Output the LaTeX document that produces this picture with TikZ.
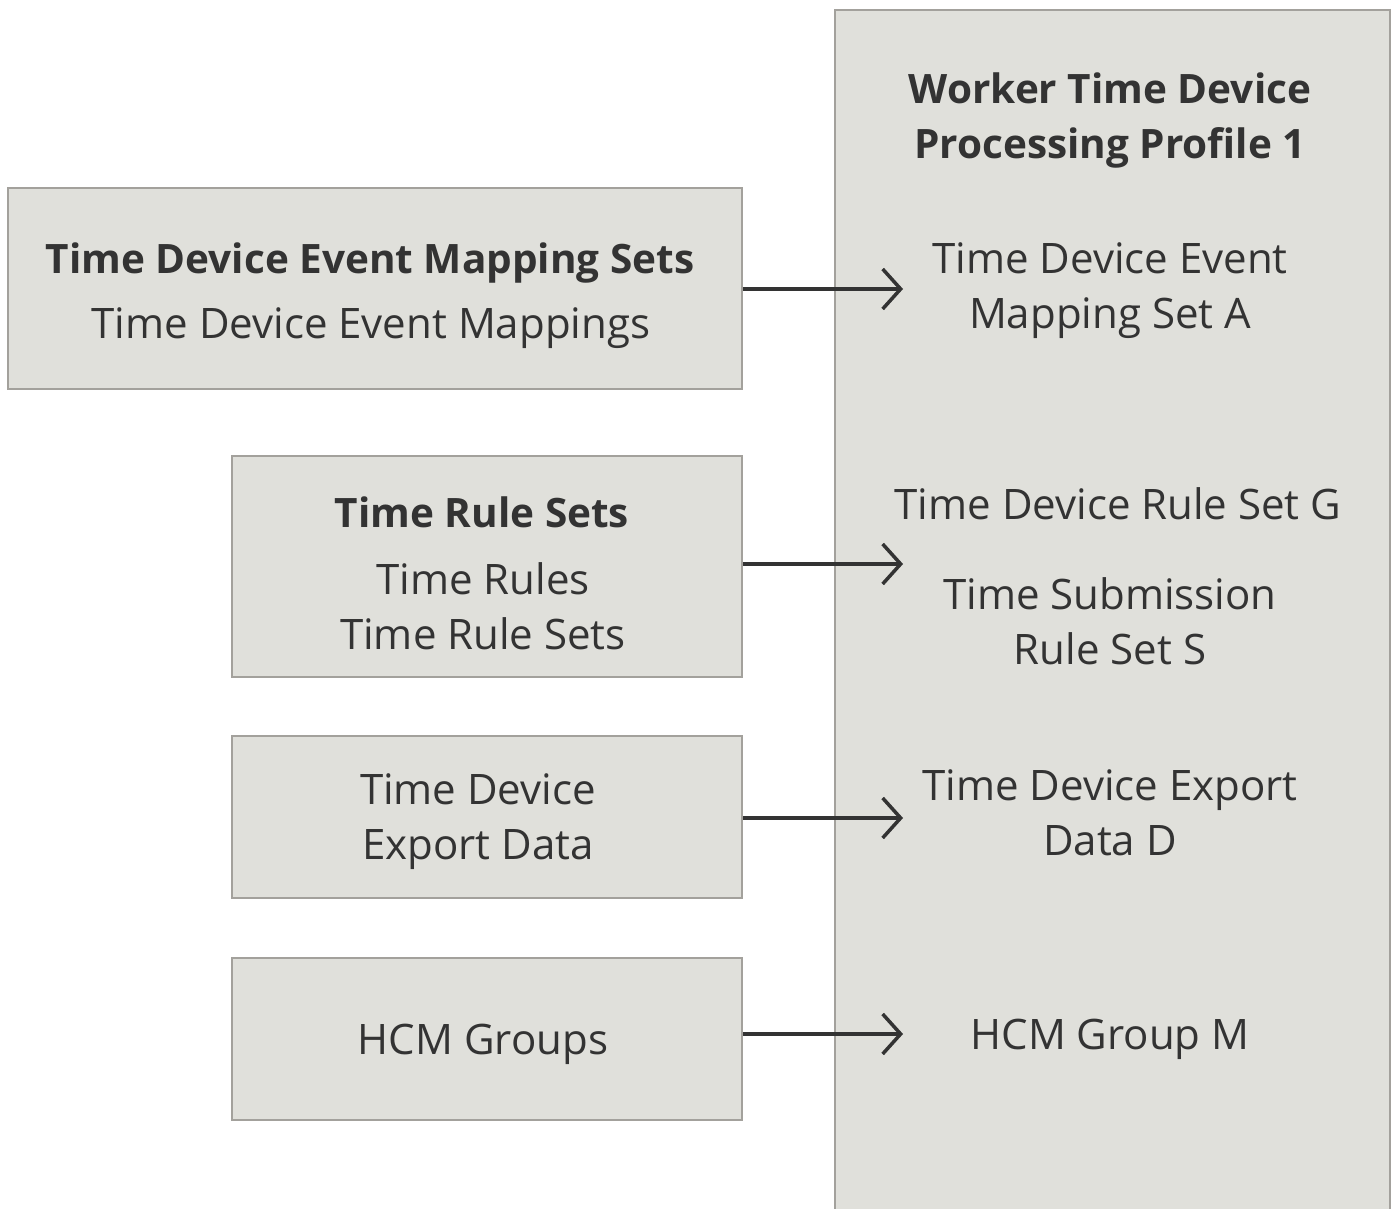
\documentclass[tikz,border=0pt]{standalone}
\usepackage{fontspec}
\setmainfont{Open Sans}
\usetikzlibrary{arrows.meta}
\definecolor{boxfill}{HTML}{E0E0DB}
\definecolor{boxline}{HTML}{A3A19C}
\definecolor{ink}{HTML}{333333}
\tikzset{
  x=1pt, y=-1pt,
  box/.style={draw=boxline, fill=boxfill, line width=2pt},
  lbl/.style={text=ink, align=center, inner sep=0pt, font=\fontsize{42}{55}\selectfont},
  blbl/.style={lbl, font=\fontsize{40.5}{55}\selectfont\bfseries},
  conn/.style={draw=ink, line width=3.5pt, -{Straight Barb[length=18pt,width=40pt,line width=3.5pt]}}
}
\begin{document}
\begin{tikzpicture}
\useasboundingbox (0,0) rectangle (1393,1209);
% right panel
\draw[box] (835,1215) -- (835,10) -- (1390,10) -- (1390,1215);
\fill[boxfill] (836,11) rectangle (1389,1209);
% left boxes
\node[box, minimum width=734pt, minimum height=201pt, inner sep=0pt] (b1) at (375,288.5) {};
\node[box, minimum width=510pt, minimum height=221pt, inner sep=0pt] (b2) at (487,566.5) {};
\node[box, minimum width=510pt, minimum height=162pt, inner sep=0pt] (b3) at (487,817) {};
\node[box, minimum width=510pt, minimum height=162pt, inner sep=0pt] (b4) at (487,1039) {};
% left texts
\node[blbl] (t1a) at (370,263) {Time Device Event Mapping Sets};
\node[lbl] (t1b) at (371,328) {Time Device Event Mappings};
\node[blbl] (t2a) at (482,512) {Time Rule Sets};
\node[lbl] (t2b) at (483,606) {Time Rules\\Time Rule Sets};
\node[lbl] (t3) at (478,822) {Time Device\\Export Data};
\node[lbl] (t4) at (483,1044) {HCM Groups};
% right texts
\node[blbl] (p0) at (1110,120) {Worker Time Device\\Processing Profile 1};
\node[lbl] (p1) at (1110,291) {Time Device Event\\Mapping Set A};
\node[lbl] (p2) at (1118,504) {Time Device Rule Set G};
\node[lbl] (p3) at (1110,621) {Time Submission\\Rule Set S};
\node[lbl] (p4) at (1110,813) {Time Device Export\\Data D};
\node[lbl] (p5) at (1110,1039) {HCM Group M};
% arrows
\coordinate (e1) at (903,289);
\coordinate (e2) at (903,564);
\coordinate (e3) at (903,818);
\coordinate (e4) at (903,1034);
\draw[conn] (b1.east |- e1) -- (e1);
\draw[conn] (b2.east |- e2) -- (e2);
\draw[conn] (b3.east |- e3) -- (e3);
\draw[conn] (b4.east |- e4) -- (e4);
\end{tikzpicture}
\end{document}
